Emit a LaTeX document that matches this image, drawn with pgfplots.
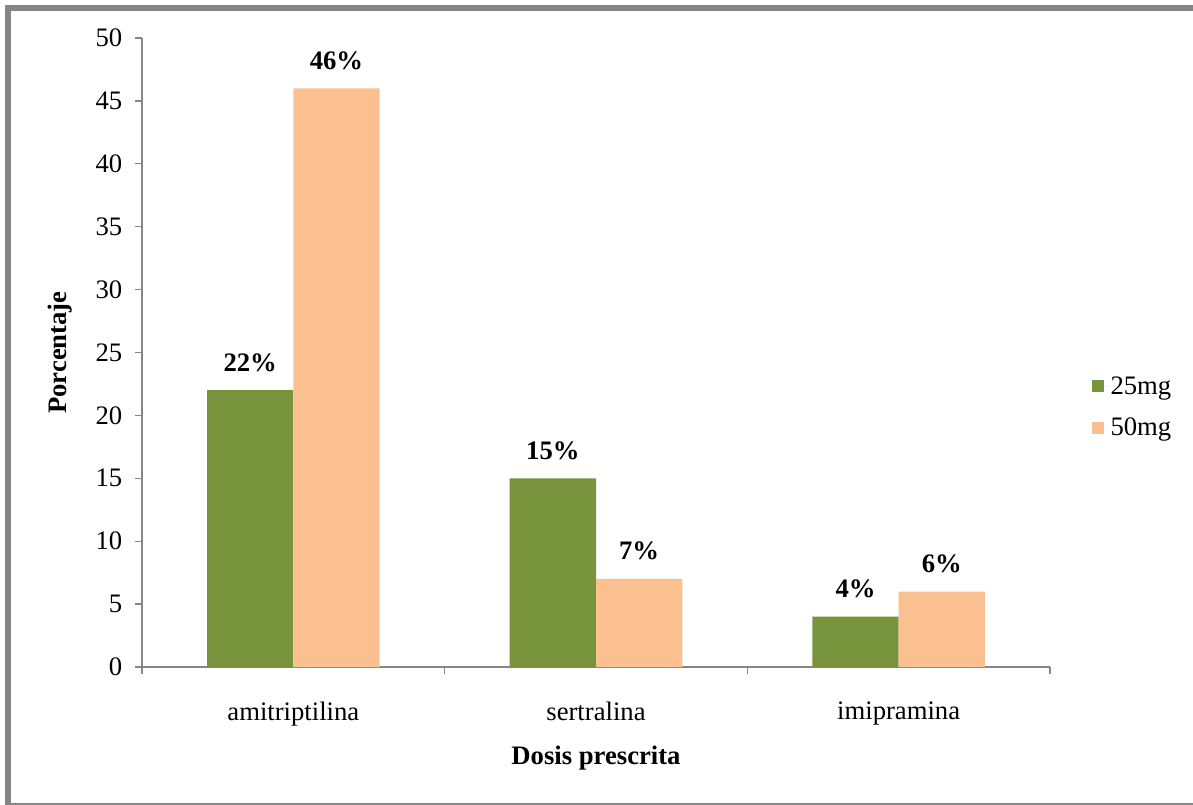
\documentclass[border=0pt]{standalone}
\usepackage{fontspec}
\setmainfont{Liberation Serif}
\usepackage{pgfplots}
\pgfplotsset{compat=1.18}
\definecolor{cgreen}{RGB}{119,147,60}
\definecolor{corange}{RGB}{250,192,144}
\definecolor{axgray}{RGB}{134,134,134}
\definecolor{framegray}{RGB}{134,134,134}
\begin{document}
\begin{tikzpicture}
\useasboundingbox (0,0) rectangle (894.75pt,-603pt);
\begin{scope}
\clip (0,0) rectangle (894.75pt,-603pt);
\draw[framegray, line width=4.5pt] (6pt,-6pt) rectangle (900pt,-604.5pt);
\end{scope}
\begin{axis}[
  at={(106.5pt,-500.25pt)}, anchor=south west,
  scale only axis,
  width=681pt, height=471.75pt,
  ybar=0pt, bar width=0.285,
  xmin=-0.5, xmax=2.5,
  ymin=0, ymax=50,
  ytick={0,5,...,50},
  xtick={-0.5,0.5,1.5,2.5},
  xticklabels={},
  extra x ticks={0,1,2},
  extra x tick labels={amitriptilina,sertralina,imipramina},
  extra x tick style={major tick length=0pt, tick label style={yshift=-22.5pt}},
  axis x line*=bottom, axis y line*=left,
  axis line style={draw=axgray, line width=1pt, -},
  tick style={draw=axgray, line width=1pt},
  tick align=outside,
  major tick length=5.25pt,
  /pgf/number format/assume math mode=true,
  tick label style={font=\fontsize{20}{24}\selectfont},
  yticklabel style={xshift=-6pt},
  xlabel={Dosis prescrita},
  ylabel={Porcentaje},
  label style={font=\fontsize{20}{24}\selectfont\bfseries},
  xlabel style={at={(axis description cs:0.5,-0.1447)}, anchor=center},
  ylabel style={at={(axis description cs:-0.0903,0.5)}, anchor=center, rotate=0},
  nodes near coords={\pgfmathprintnumber{\pgfplotspointmeta}\%},
  every node near coord/.append style={font=\fontsize{20}{24}\selectfont\bfseries, text=black, anchor=south, yshift=10.5pt},
  legend style={at={(1.0385,0.413)}, anchor=west, draw=none, fill=none,
    font=\fontsize{20}{24}\selectfont, row sep=12.5pt,
    legend cell align=left},
  legend image code/.code={\fill[#1] (2pt,-4.5pt) rectangle (11pt,4.5pt);
    \path (0pt,0pt) -- (14pt,0pt);},
]
\addplot[fill=cgreen, draw=none] coordinates {(0,22) (1,15) (2,4)};
\addplot[fill=corange, draw=none] coordinates {(0,46) (1,7) (2,6)};
\legend{25mg,50mg}
\end{axis}
\end{tikzpicture}
\end{document}
